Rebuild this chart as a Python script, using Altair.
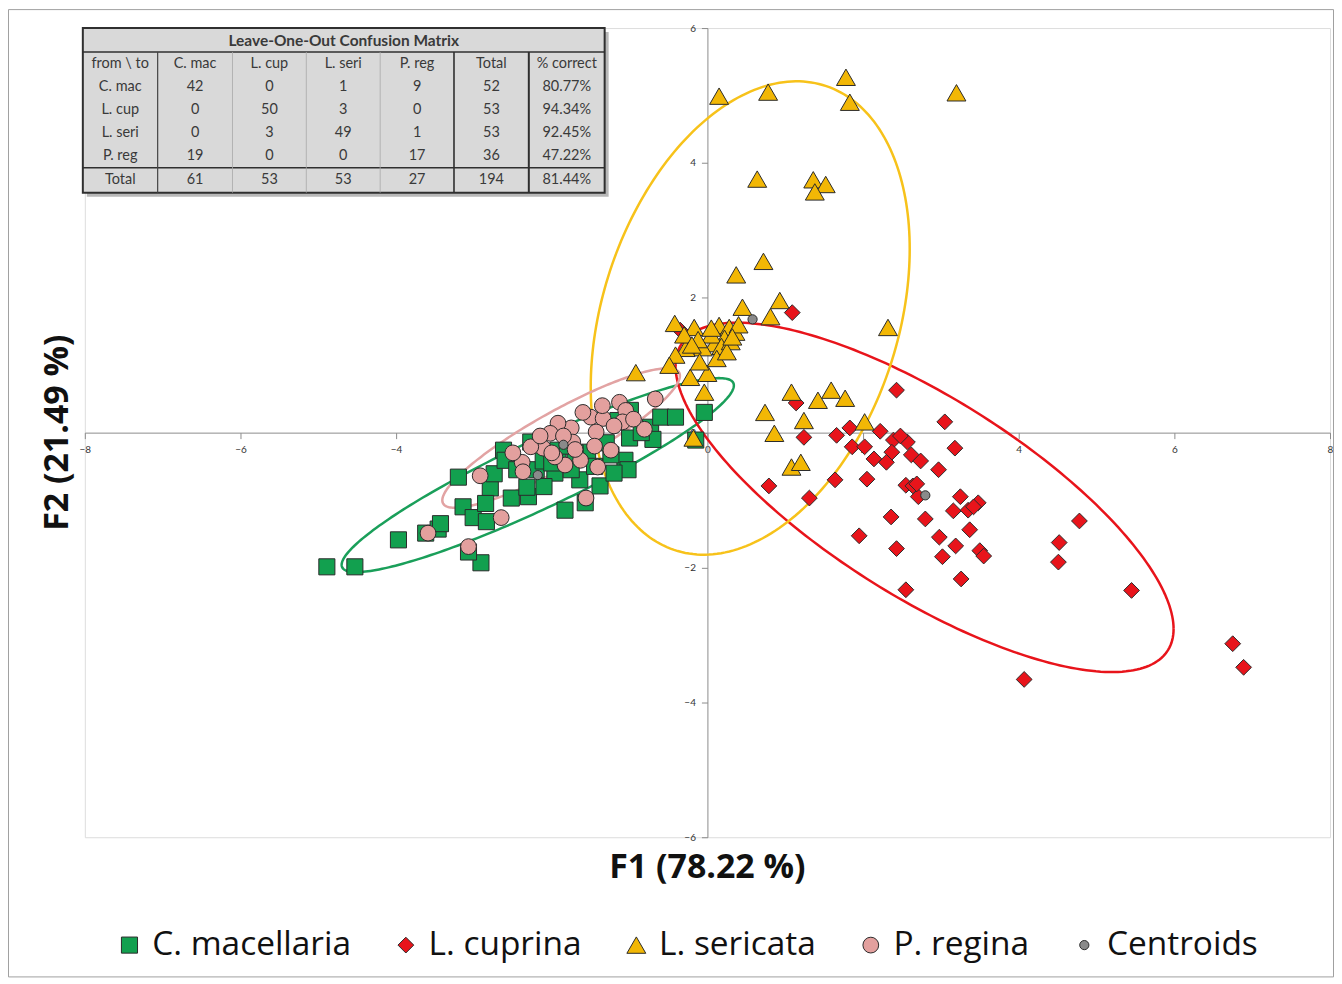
import altair as alt
import numpy as np
import pandas as pd

# ---------------- data ----------------
cmac_x = [-4.89, -4.53, -3.97, -3.62, -3.46, -2.91, -3.07, -3.20, -3.14, -3.01,
          -2.84, -2.79, -2.74, -2.62, -2.60, -2.52, -2.30, -2.32, -2.20, -2.27,
          -1.96, -1.64, -1.83, -1.57, -1.38, -1.06, -1.02, -1.00, -1.54, -1.24,
          -0.99, -1.15, -0.73, -0.60, -0.41, -0.04, -0.15, -1.70, -1.92, -3.43,
          -2.11, -1.75, -0.70, -2.45, -1.30, -0.85, -2.10, -1.45, -2.00, -1.80,
          -2.85, -1.20]
cmac_y = [-1.99, -1.99, -1.59, -1.49, -1.43, -1.93, -1.77, -0.66, -1.10, -1.26,
          -1.32, -0.82, -0.61, -0.26, -0.41, -0.97, -0.95, -0.81, -0.55, -0.14,
          -0.60, -0.70, -1.15, -1.04, -0.79, -0.41, -0.55, -0.08, -0.29, -0.33,
          0.33, 0.18, 0.08, 0.23, 0.23, 0.30, -0.11, -0.30, -0.26, -1.35,
          -0.42, -0.55, -0.10, -0.55, -0.15, 0.00, -0.80, -0.50, -0.45, -0.20,
          -1.05, -0.60]

lcup_x = [2.43, 3.05, 1.14, 1.24, 1.66, 1.83, 2.22, 1.86, 2.02, 2.39,
          2.57, 2.37, 2.14, 2.30, 2.62, 2.74, 3.18, 2.97, 1.64, 2.05,
          0.79, 1.31, 2.55, 2.64, 2.71, 2.36, 2.80, 3.25, 3.48, 3.16,
          3.35, 3.37, 2.98, 3.19, 1.95, 2.43, 3.02, 3.50, 3.55, 3.26,
          2.55, 4.78, 4.52, 4.51, 5.45, 6.75, 6.89, 4.07, 1.09, -0.35,
          2.48, 3.42, 2.69]
lcup_y = [0.63, 0.16, 0.44, -0.07, -0.04, 0.07, 0.02, -0.21, -0.21, -0.11,
          -0.14, -0.29, -0.39, -0.44, -0.33, -0.42, -0.23, -0.55, -0.70, -0.69,
          -0.79, -0.97, -0.78, -0.79, -0.95, -1.25, -1.28, -0.95, -1.04, -1.16,
          -1.15, -1.44, -1.55, -1.68, -1.53, -1.72, -1.84, -1.75, -1.83, -2.17,
          -2.33, -1.31, -1.63, -1.92, -2.34, -3.13, -3.48, -3.66, 1.78, 1.52,
          -0.05, -1.10, -0.76]

lseri_x = [0.15, 0.78, 1.78, 1.83, 3.20, 0.64, 1.36, 1.52, 1.38, 0.72,
           0.37, 0.93, 0.45, 0.81, 2.32,
           -0.42, -0.17, 0.15, 0.28, 0.36, 0.22, 0.09, -0.06, -0.28, -0.41,
           -0.49, -0.22, 0.00, -0.04, -0.92, -0.18,
           0.74, 1.08, 1.42, 1.59, 1.77, 1.24, 0.86, 2.02, 1.08, 1.20,
           0.05, 0.18, -0.12, 0.30, 0.40, -0.30, 0.12, 0.25, -0.10, 0.05,
           0.32, -0.20]
lseri_y = [4.99, 5.05, 5.27, 4.90, 5.04, 3.76, 3.75, 3.68, 3.57, 2.54,
           2.34, 1.96, 1.86, 1.72, 1.56,
           1.62, 1.56, 1.59, 1.56, 1.49, 1.40, 1.32, 1.26, 1.25, 1.15,
           1.00, 0.82, 0.88, 0.60, 0.89, -0.08,
           0.30, 0.60, 0.48, 0.63, 0.51, 0.18, -0.01, 0.16, -0.51, -0.44,
           1.45, 1.28, 1.38, 1.35, 1.60, 1.45, 1.10, 1.20, 1.05, 1.55,
           1.42, 1.30]

preg_x = [-0.67, -1.13, -1.05, -1.09, -1.50, -1.34, -1.43, -0.81, -1.24, -1.41,
          -1.63, -1.75, -1.92, -2.02, -1.73, -1.83, -1.96, -2.11, -2.27, -2.38,
          -2.37, -2.92, -2.65, -3.59, -3.07, -1.56, -1.60, -1.20, -1.85, -2.15,
          -1.45, -0.95, -2.50, -1.70, -1.35, -2.00]
preg_y = [0.50, 0.45, 0.33, 0.16, 0.23, 0.21, 0.01, 0.05, -0.26, -0.51,
          -0.41, 0.07, 0.14, -0.01, -0.14, -0.48, -0.36, -0.23, -0.21, -0.44,
          -0.58, -0.64, -1.26, -1.49, -1.69, -0.97, 0.30, 0.10, -0.05, -0.05,
          -0.20, 0.20, -0.30, -0.25, 0.40, -0.30]

cent_x = [-2.18, 2.80, 0.58, -1.85]
cent_y = [-0.63, -0.93, 1.68, -0.18]

# ellipse parameters: centre x, centre y, var x, var y, cov xy
ell_names = ["C. macellaria", "L. cuprina", "L. sericata", "P. regina"]
ell_cx = [-2.18, 2.79, 0.55, -1.88]
ell_cy = [-0.63, -0.96, 1.70, -0.08]
ell_sxx = [6.35, 10.24, 4.20, 2.33]
ell_syy = [2.07, 6.71, 12.32, 1.07]
ell_sxy = [3.35, -6.24, 2.10, 1.41]
ell_colors = ["#1a9f5a", "#e8141b", "#f7c21a", "#e2a3a3"]

species = ["C. macellaria", "L. cuprina", "L. sericata", "P. regina", "Centroids"]
sp_colors = ["#12a04f", "#e8141b", "#f2b705", "#e3a09e", "#8a8a8a"]
sp_shapes = ["square", "diamond", "triangle-up", "circle", "circle"]
sp_sizes = [260, 250, 360, 250, 85]

# confusion matrix
tbl_title = "Leave-One-Out Confusion Matrix"
tbl_header = ["from \\ to", "C. mac", "L. cup", "L. seri", "P. reg", "Total", "% correct"]
tbl_rows = [
    ["C. mac", "42", "0", "1", "9", "52", "80.77%"],
    ["L. cup", "0", "50", "3", "0", "53", "94.34%"],
    ["L. seri", "0", "3", "49", "1", "53", "92.45%"],
    ["P. reg", "19", "0", "0", "17", "36", "47.22%"],
    ["Total", "61", "53", "53", "27", "194", "81.44%"],
]

x_title = "F1 (78.22 %)"
y_title = "F2 (21.49 %)"

# ---------------- layout ----------------
W, H = 1248, 811
col_edges = [-2, 73, 148, 222, 296, 370, 445, 521]
row_edges = [0, 24, 48, 71, 94, 117, 140, 165]
FONT = "Lato"
BIG = "Open Sans"

# ---------------- build frames ----------------
frames = []
for name, xs, ys in [("C. macellaria", cmac_x, cmac_y), ("L. cuprina", lcup_x, lcup_y),
                     ("L. sericata", lseri_x, lseri_y), ("P. regina", preg_x, preg_y),
                     ("Centroids", cent_x, cent_y)]:
    frames.append(pd.DataFrame({"x": xs, "y": ys, "species": name}))
pts = pd.concat(frames, ignore_index=True)
pts["idx"] = np.arange(len(pts))

t = np.linspace(0, 2 * np.pi, 241)
ell_frames = []
for i, nm in enumerate(ell_names):
    l00 = np.sqrt(ell_sxx[i])
    l10 = ell_sxy[i] / l00
    l11 = np.sqrt(ell_syy[i] - l10 ** 2)
    ell_frames.append(pd.DataFrame({
        "x": ell_cx[i] + l00 * np.cos(t),
        "y": ell_cy[i] + l10 * np.cos(t) + l11 * np.sin(t),
        "t": np.arange(len(t)), "ell": nm}))

xenc = alt.X("x:Q", scale=alt.Scale(domain=[-8, 8], nice=False, zero=False),
             axis=alt.Axis(values=list(range(-8, 9, 2)), offset=-H / 2, title=None,
                           grid=False, domainColor="#8c8c8c", tickColor="#8c8c8c",
                           tickSize=6, labelFontSize=10, labelFont=FONT, labelColor="#333",
                           labelPadding=6, labelFlush=False, labelOverlap=False))
yenc = alt.Y("y:Q", scale=alt.Scale(domain=[-6, 6], nice=False, zero=False),
             axis=alt.Axis(values=list(range(-6, 7, 2)), offset=-W / 2, title=None,
                           grid=False, domainColor="#8c8c8c", tickColor="#8c8c8c",
                           tickSize=6, labelFontSize=10, labelFont=FONT, labelColor="#333",
                           labelPadding=6, labelFlush=False, labelOverlap=False))

layers = []
for i, df in enumerate(ell_frames):
    layers.append(alt.Chart(df).mark_line(stroke=ell_colors[i], strokeWidth=2.5).encode(
        x=xenc, y=yenc, order="t:Q"))

leg = alt.Legend(title=None, orient="none", legendX=28, legendY=902, direction="horizontal",
                 columns=5, labelFont=BIG, labelFontSize=33.5, labelColor="#111", labelLimit=0,
                 labelOffset=6, columnPadding=38, symbolStrokeColor="#2b2b2b",
                 symbolStrokeWidth=1, padding=0)

points = alt.Chart(pts).mark_point(filled=True, opacity=1, stroke="#2b2b2b", strokeWidth=1).encode(
    x=xenc, y=yenc,
    color=alt.Color("species:N", scale=alt.Scale(domain=species, range=sp_colors), legend=leg),
    shape=alt.Shape("species:N", scale=alt.Scale(domain=species, range=sp_shapes), legend=leg),
    size=alt.Size("species:N", scale=alt.Scale(type="ordinal", domain=species, range=sp_sizes),
                  legend=leg),
    order=alt.Order("idx:Q"))
layers.append(points)

# ---------------- table ----------------
box = pd.DataFrame({"x1": [col_edges[0]], "x2": [col_edges[-1]],
                    "y1": [row_edges[0]], "y2": [row_edges[-1]]})
shadow = pd.DataFrame({"x1": [col_edges[0] + 4], "x2": [col_edges[-1] + 4],
                       "y1": [row_edges[0] + 4], "y2": [row_edges[-1] + 4]})
PX = lambda f: alt.X(f, scale=None, axis=None)
PY = lambda f: alt.Y(f, scale=None, axis=None)
layers.append(alt.Chart(shadow).mark_rect(fill="#9a9a9a", opacity=0.7).encode(
    x=PX("x1:Q"), x2="x2:Q", y=PY("y1:Q"), y2="y2:Q"))
layers.append(alt.Chart(box).mark_rect(fill="#d9d9d9", stroke="#2f2f2f", strokeWidth=2).encode(
    x=PX("x1:Q"), x2="x2:Q", y=PY("y1:Q"), y2="y2:Q"))

rules = []
rules.append((col_edges[0], col_edges[-1], row_edges[1], row_edges[1], "#2f2f2f", 1.6))
rules.append((col_edges[0], col_edges[-1], row_edges[6], row_edges[6], "#2f2f2f", 1.6))
rules.append((col_edges[1], col_edges[1], row_edges[1], row_edges[-1], "#444", 1.2))
for c in (2, 3, 4):
    rules.append((col_edges[c], col_edges[c], row_edges[1], row_edges[-1], "#a8a8a8", 0.8))
rules.append((col_edges[5], col_edges[5], row_edges[1], row_edges[-1], "#2f2f2f", 1.6))
rules.append((col_edges[6], col_edges[6], row_edges[1], row_edges[-1], "#2f2f2f", 2.0))
rdf = pd.DataFrame(rules, columns=["x1", "x2", "y1", "y2", "c", "w"])
for _, r in rdf.iterrows():
    layers.append(alt.Chart(pd.DataFrame([r])).mark_rule(stroke=r["c"], strokeWidth=r["w"]).encode(
        x=PX("x1:Q"), x2="x2:Q", y=PY("y1:Q"), y2="y2:Q"))

cells = []
for j, h in enumerate(tbl_header):
    cells.append(((col_edges[j] + col_edges[j + 1]) / 2, (row_edges[1] + row_edges[2]) / 2, h))
for i, row in enumerate(tbl_rows):
    for j, v in enumerate(row):
        cells.append(((col_edges[j] + col_edges[j + 1]) / 2,
                      (row_edges[i + 2] + row_edges[i + 3]) / 2, v))
cdf = pd.DataFrame(cells, columns=["cx", "cy", "txt"])
layers.append(alt.Chart(cdf).mark_text(font=FONT, fontSize=14.5, color="#3a3a3a",
                                        baseline="middle", align="center").encode(
    x=PX("cx:Q"), y=PY("cy:Q"), text="txt:N"))
tdf = pd.DataFrame({"cx": [(col_edges[0] + col_edges[-1]) / 2],
                    "cy": [(row_edges[0] + row_edges[1]) / 2 + 1], "txt": [tbl_title]})
layers.append(alt.Chart(tdf).mark_text(font=FONT, fontSize=15.5, fontWeight="bold",
                                        color="#3a3a3a", baseline="middle", align="center").encode(
    x=PX("cx:Q"), y=PY("cy:Q"), text="txt:N"))

# ---------------- axis titles ----------------
layers.append(alt.Chart(pd.DataFrame({"t": [x_title]})).mark_text(
    font=BIG, fontSize=34, fontWeight="bold", color="#111", baseline="middle", align="center").encode(
    x=alt.value(W / 2), y=alt.value(H + 31), text="t:N"))
layers.append(alt.Chart(pd.DataFrame({"t": [y_title]})).mark_text(
    font=BIG, fontSize=34, fontWeight="bold", color="#111", baseline="middle", align="center",
    angle=270).encode(x=alt.value(-27), y=alt.value(H / 2), text="t:N"))

# outer frame
layers.append(alt.Chart(pd.DataFrame({"a": [0]})).mark_rect(filled=False, stroke="#a0a0a0",
                                                            strokeWidth=1).encode(
    x=alt.value(-76.5), x2=alt.value(W + 3.5), y=alt.value(-18.5), y2=alt.value(H + 140)))

chart = alt.layer(*layers).properties(
    width=W, height=H,
    padding={"left": 77, "top": 19, "right": 4, "bottom": 142},
    autosize=alt.AutoSizeParams(type="none"),
).configure_view(stroke="#8c8c8c", strokeWidth=1).configure(background="white")

chart.save("out.html", embed_options={"renderer": "svg", "actions": False})
